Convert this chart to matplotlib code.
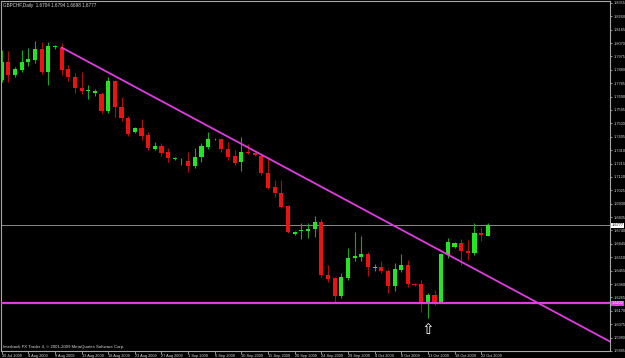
import matplotlib
matplotlib.use("Agg")
import matplotlib.pyplot as plt
import numpy as np

plt.rcParams['font.family'] = ['Liberation Sans', 'DejaVu Sans']

# GBPCHF daily bars, 30 Jul 2009 .. 23 Oct 2009 (broker shows sunday bars)
opens = [1.7808, 1.7935, 1.7843, 1.7879, 1.7935, 1.7950, 1.8028, 1.7865, 1.8040, 1.8035,
         1.7886, 1.7829, 1.7751, 1.7733, 1.7716, 1.7709, 1.7588, 1.7801, 1.7616, 1.7538,
         1.7439, 1.7468, 1.7418, 1.7319, 1.7340, 1.7297, 1.7248, 1.7230, 1.7234, 1.7200,
         1.7260, 1.7335, 1.7386, 1.7390, 1.7316, 1.7269, 1.7224, 1.7295, 1.7288, 1.7271,
         1.7151, 1.7047, 1.7005, 1.6914, 1.6716, 1.6734, 1.6739, 1.6749, 1.6799, 1.6425,
         1.6402, 1.6276, 1.6402, 1.6544, 1.6555, 1.6574, 1.6477, 1.6480, 1.6456, 1.6347,
         1.6461, 1.6496, 1.6359, 1.6359, 1.6225, 1.6283, 1.6236, 1.6567, 1.6626, 1.6654,
         1.6595, 1.6583, 1.6721, 1.6704]
highs = [1.8020, 1.8013, 1.7900, 1.8020, 1.8035, 1.8084, 1.8077, 1.8077, 1.8056, 1.8070,
         1.7914, 1.7857, 1.7865, 1.7772, 1.7744, 1.7723, 1.7829, 1.7808, 1.7687, 1.7553,
         1.7475, 1.7531, 1.7439, 1.7368, 1.7361, 1.7326, 1.7262, 1.7255, 1.7299, 1.7326,
         1.7361, 1.7437, 1.7393, 1.7397, 1.7370, 1.7312, 1.7402, 1.7354, 1.7297, 1.7283,
         1.7264, 1.7099, 1.7099, 1.6922, 1.6737, 1.6794, 1.6792, 1.6846, 1.6820, 1.6496,
         1.6411, 1.6439, 1.6615, 1.6732, 1.6702, 1.6590, 1.6503, 1.6527, 1.6466, 1.6512,
         1.6574, 1.6532, 1.6368, 1.6390, 1.6295, 1.6319, 1.6581, 1.6685, 1.6661, 1.6678,
         1.6673, 1.6796, 1.6768, 1.6794]
lows = [1.7794, 1.7794, 1.7829, 1.7865, 1.7907, 1.7928, 1.7850, 1.7772, 1.8028, 1.7843,
        1.7801, 1.7716, 1.7709, 1.7673, 1.7694, 1.7574, 1.7574, 1.7545, 1.7517, 1.7411,
        1.7432, 1.7382, 1.7311, 1.7311, 1.7269, 1.7226, 1.7241, 1.7205, 1.7158, 1.7184,
        1.7229, 1.7319, 1.7382, 1.7299, 1.7241, 1.7205, 1.7163, 1.7283, 1.7269, 1.7134,
        1.7035, 1.6980, 1.6898, 1.6721, 1.6709, 1.6680, 1.6685, 1.6697, 1.6409, 1.6371,
        1.6225, 1.6262, 1.6390, 1.6520, 1.6520, 1.6418, 1.6449, 1.6437, 1.6295, 1.6314,
        1.6442, 1.6342, 1.6347, 1.6165, 1.6118, 1.6213, 1.6234, 1.6544, 1.6619, 1.6496,
        1.6532, 1.6567, 1.6666, 1.6698]
closes = [1.7935, 1.7843, 1.7886, 1.7935, 1.7957, 1.8028, 1.7865, 1.8049, 1.8044, 1.7879,
          1.7829, 1.7751, 1.7730, 1.7737, 1.7730, 1.7588, 1.7801, 1.7616, 1.7538, 1.7425,
          1.7468, 1.7411, 1.7326, 1.7340, 1.7290, 1.7255, 1.7255, 1.7234, 1.7200, 1.7260,
          1.7340, 1.7390, 1.7390, 1.7316, 1.7264, 1.7221, 1.7295, 1.7290, 1.7276, 1.7151,
          1.7044, 1.7005, 1.6910, 1.6728, 1.6732, 1.6744, 1.6749, 1.6799, 1.6425, 1.6395,
          1.6276, 1.6409, 1.6544, 1.6560, 1.6574, 1.6480, 1.6480, 1.6449, 1.6347, 1.6466,
          1.6496, 1.6361, 1.6356, 1.6220, 1.6283, 1.6236, 1.6574, 1.6661, 1.6654, 1.6595,
          1.6583, 1.6721, 1.6709, 1.6777]

date_labels = ["30 Jul 2009", "4 Aug 2009", "9 Aug 2009", "13 Aug 2009", "18 Aug 2009",
               "23 Aug 2009", "27 Aug 2009", "1 Sep 2009", "6 Sep 2009", "10 Sep 2009",
               "15 Sep 2009", "20 Sep 2009", "24 Sep 2009", "29 Sep 2009", "4 Oct 2009",
               "8 Oct 2009", "13 Oct 2009", "18 Oct 2009", "22 Oct 2009"]
date_step = 4

price_ticks = [round(1.5885 + 0.0095 * k, 4) for k in range(27)]

# drawn objects
trend_x = [9, 66]
trend_y = [1.8038, 1.6594]
support_level = 1.6222
last_price = 1.6777
arrow_bar = 64
arrow_price = 1.6040

title = "GBPCHF,Daily  1.6704 1.6794 1.6698 1.6777"
copyright = "Interbank FX Trader 4, \u00a9 2001-2009 MetaQuotes Software Corp."

bull_body = '#22e622'
bull_wick = '#1aa81a'
bear_body = '#ee1111'
bear_wick = '#b00c0c'
magenta = '#e23be2'
fg = '#d8d8d8'

fig = plt.figure(figsize=(6.25, 3.58), dpi=100)
fig.patch.set_facecolor('black')
ax = fig.add_axes([1/625, 7/358, 609/625, 350/358])
ax.set_facecolor('black')

o = np.array(opens); h = np.array(highs); l = np.array(lows); c = np.array(closes)
x = np.arange(len(o))
up = c >= o
body_lo = np.minimum(o, c)
body_h = np.maximum(np.abs(c - o), 0.0006)

ax.vlines(x[up], l[up], h[up], color=bull_wick, lw=0.8, zorder=2)
ax.vlines(x[~up], l[~up], h[~up], color=bear_wick, lw=0.8, zorder=2)
ax.bar(x[up], body_h[up], bottom=body_lo[up], width=0.62, color=bull_body, lw=0, zorder=3)
ax.bar(x[~up], body_h[~up], bottom=body_lo[~up], width=0.62, color=bear_body, lw=0, zorder=3)

xmin, xmax = -0.1, 91.35
ax.set_xlim(xmin, xmax)
ax.set_ylim(1.5886, 1.8368)

# trend line as a ray from the first anchor
slope = (trend_y[1] - trend_y[0]) / (trend_x[1] - trend_x[0])
ray_x = np.array([trend_x[0], xmax + 1])
ax.plot(ray_x, trend_y[0] + slope * (ray_x - trend_x[0]), color=magenta, lw=1.3, zorder=4)

ax.axhline(support_level, color=magenta, lw=1.6, zorder=4)
ax.axhline(last_price, color='#8a8a8a', lw=0.7, zorder=1)

ax.text(arrow_bar, arrow_price, "\u21e7", color='white', fontsize=11, ha='center', va='center',
        family='DejaVu Sans', zorder=5)

# axes styling
for s in ax.spines.values():
    s.set_color('#a8a8a8')
    s.set_linewidth(0.8)

ax.yaxis.tick_right()
ax.set_yticks(price_ticks)
ax.set_yticklabels([f"{p:.4f}" for p in price_ticks])
ax.tick_params(axis='y', colors='#a8a8a8', labelcolor=fg, labelsize=2.8, length=1.5, width=0.6, pad=0.8)

ax.set_xticks(x[::date_step])
ax.set_xticklabels(date_labels, ha='left')
ax.tick_params(axis='x', colors='#a8a8a8', labelcolor=fg, labelsize=2.8, length=2, width=0.6, pad=0.5)

# price boxes on the axis
ax.text(1.002, last_price, f"{last_price:.4f}", transform=ax.get_yaxis_transform(),
        fontsize=2.8, color='black', va='center', ha='left', zorder=6, clip_on=False,
        bbox=dict(boxstyle='square,pad=0.15', fc='white', ec='none'))
ax.text(1.002, support_level, f"{support_level:.4f}", transform=ax.get_yaxis_transform(),
        fontsize=2.8, color='white', va='center', ha='left', zorder=6, clip_on=False,
        bbox=dict(boxstyle='square,pad=0.15', fc=magenta, ec='none'))

ax.text(0.004, 0.994, title, transform=ax.transAxes, fontsize=3.3, color=fg, va='top', ha='left')
ax.text(0.004, 0.006, copyright, transform=ax.transAxes, fontsize=3.1, color=fg, va='bottom', ha='left')

fig.savefig("out.png", dpi=100, facecolor=fig.get_facecolor())
